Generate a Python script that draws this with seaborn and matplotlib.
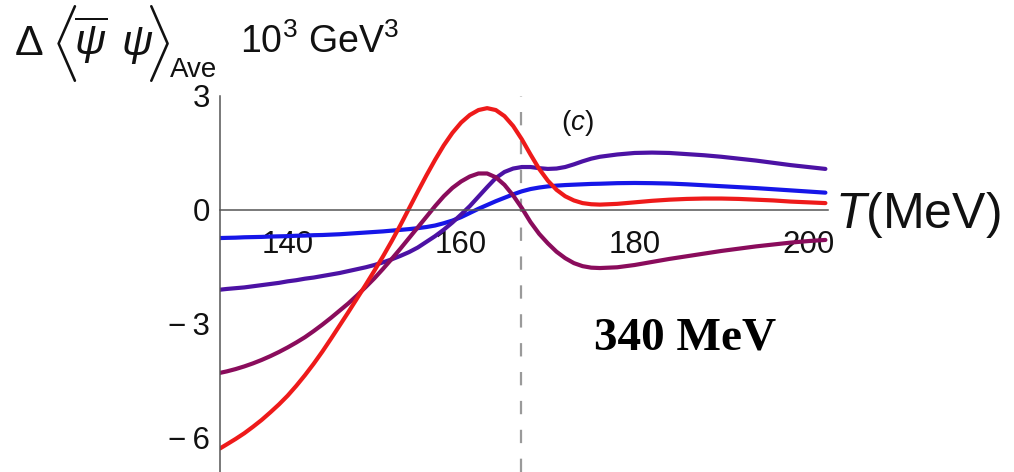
import numpy as np
import pandas as pd
import matplotlib
matplotlib.use("Agg")
import matplotlib.pyplot as plt
import seaborn as sns

# ---- data ----
T = [132.2, 133, 134, 135, 136, 137, 138, 139, 140, 141, 142, 143, 144, 145, 146,
     147, 148, 149, 150, 151, 152, 153, 154, 155, 156, 157, 158, 159, 160, 161,
     162, 163, 164, 165, 166, 167, 168, 169, 170, 171, 172, 173, 174, 175, 176,
     178, 180, 182, 184, 186, 188, 190, 192, 194, 196, 198, 200, 202]
blue = [-0.74, -0.735, -0.73, -0.72, -0.715, -0.71, -0.70, -0.695, -0.69, -0.68,
        -0.675, -0.665, -0.66, -0.65, -0.64, -0.625, -0.61, -0.595, -0.58, -0.565,
        -0.545, -0.525, -0.505, -0.48, -0.45, -0.41, -0.35, -0.28, -0.19, -0.08,
        0.03, 0.13, 0.23, 0.32, 0.41, 0.49, 0.55, 0.59, 0.62, 0.64, 0.655, 0.665,
        0.675, 0.685, 0.69, 0.705, 0.71, 0.705, 0.695, 0.675, 0.65, 0.625, 0.60,
        0.575, 0.545, 0.515, 0.485, 0.455]
purple = [-2.10, -2.08, -2.06, -2.04, -2.01, -1.98, -1.95, -1.92, -1.88, -1.85,
          -1.81, -1.78, -1.74, -1.70, -1.66, -1.61, -1.56, -1.51, -1.45, -1.38,
          -1.30, -1.21, -1.11, -0.99, -0.84, -0.69, -0.52, -0.33, -0.12, 0.10,
          0.35, 0.60, 0.84, 1.00, 1.09, 1.13, 1.13, 1.10, 1.08, 1.09, 1.13, 1.20,
          1.28, 1.35, 1.40, 1.46, 1.50, 1.51, 1.50, 1.47, 1.44, 1.40, 1.35, 1.30,
          1.24, 1.18, 1.13, 1.08]
maroon = [-4.29, -4.25, -4.19, -4.12, -4.04, -3.95, -3.85, -3.74, -3.62, -3.49,
          -3.35, -3.19, -3.02, -2.84, -2.65, -2.46, -2.25, -2.03, -1.80, -1.55,
          -1.29, -1.02, -0.74, -0.46, -0.18, 0.10, 0.36, 0.58, 0.75, 0.88, 0.96,
          0.96, 0.86, 0.66, 0.38, 0.05, -0.32, -0.63, -0.88, -1.10, -1.27, -1.40,
          -1.48, -1.52, -1.53, -1.51, -1.45, -1.37, -1.29, -1.22, -1.15, -1.08,
          -1.02, -0.96, -0.91, -0.86, -0.82, -0.79]
red = [-6.28, -6.17, -6.03, -5.88, -5.71, -5.53, -5.33, -5.12, -4.89, -4.63, -4.35,
       -4.05, -3.73, -3.39, -3.04, -2.69, -2.33, -1.97, -1.60, -1.22, -0.82, -0.40,
       0.04, 0.48, 0.91, 1.32, 1.70, 2.03, 2.30, 2.50, 2.63, 2.68, 2.63, 2.47, 2.21,
       1.86, 1.46, 1.08, 0.77, 0.53, 0.36, 0.25, 0.18, 0.15, 0.14, 0.16, 0.20, 0.24,
       0.27, 0.29, 0.30, 0.30, 0.29, 0.27, 0.25, 0.22, 0.20, 0.18]
series_names = ["blue", "purple", "maroon", "red"]
T_c = 166.9
x_ticks = [140, 160, 180, 200]
y_ticks = [3, 0, -3, -6]
y_tick_labels = ["3", "0", "\u2212\u20093", "\u2212\u20096"]

colors = {"blue": "#1616e8", "purple": "#4c12a4", "maroon": "#8a0c5c", "red": "#ee1a1a"}

df = pd.concat([
    pd.DataFrame({"T": T, "val": v, "series": n})
    for n, v in zip(series_names, [blue, purple, maroon, red])
], ignore_index=True)

sns.set_theme(style="white")
plt.rcParams["font.family"] = ["Liberation Sans", "DejaVu Sans"]
plt.rcParams["mathtext.fontset"] = "custom"
plt.rcParams["mathtext.rm"] = "Liberation Sans"
plt.rcParams["mathtext.it"] = "Liberation Sans:italic"
plt.rcParams["mathtext.bf"] = "Liberation Sans:bold"

fig = plt.figure(figsize=(10.14, 4.72), dpi=100)
W, H = 1014, 472
ax = fig.add_axes([220 / W, 0.0, (828 - 220) / W, 1 - 88.4 / H])

sns.lineplot(data=df, x="T", y="val", hue="series", hue_order=series_names,
             palette=colors, linewidth=3.0, legend=False, ax=ax, sort=False)

ax.axvline(T_c, ymin=0, ymax=(3 + 6.9) / (3.2 + 6.9), color="#9a9a9a",
           linewidth=1.6, dashes=(6, 7), zorder=0)

ax.set_xlim(132.2, 202.3)
ax.set_ylim(-6.9, 3.2)
ax.set_xlabel("")
ax.set_ylabel("")

for s in ["top", "right"]:
    ax.spines[s].set_visible(False)
ax.spines["bottom"].set_position(("data", 0))
ax.spines["left"].set_bounds(-6.9, 3)
for s in ["bottom", "left"]:
    ax.spines[s].set_color("#555555")
    ax.spines[s].set_linewidth(1.1)

ax.set_xticks(x_ticks)
ax.set_yticks(y_ticks)
ax.set_yticklabels(y_tick_labels)
ax.tick_params(axis="x", direction="in", length=5, width=1.0, color="#555555",
               labelsize=22.5, pad=14.5, labelcolor="#111111")
ax.tick_params(axis="y", direction="in", length=6, width=1.0, color="#555555",
               labelsize=22.5, pad=7, labelcolor="#111111")
ax.patch.set_alpha(0)

# title pieces
tc = "#111111"
fig.text(15 / W, 1 - 55 / H, "\u0394", fontsize=31, color=tc, va="baseline", ha="left")
fig.text(64 / W, 1 - 44 / H, r"$\langle$", fontsize=46, color=tc, va="center", ha="center")
fig.text(74 / W, 1 - 55 / H, r"$\overline{\psi}$", fontsize=31, color=tc,
         va="baseline", ha="left")
fig.text(121 / W, 1 - 55 / H, r"$\psi$", fontsize=31, color=tc, va="baseline", ha="left")
fig.text(157 / W, 1 - 44 / H, r"$\rangle$", fontsize=46, color=tc, va="center", ha="center")
fig.text(170 / W, 1 - 77 / H, "Ave", fontsize=20, color=tc, va="baseline", ha="left")
fig.text(240 / W, 1 - 53 / H, r"10$^3$ GeV$^3$", fontsize=27, color=tc,
         va="baseline", ha="left")

fig.text(835 / W, 1 - 215 / H, r"$T$(MeV)", fontsize=36, color=tc,
         va="center", ha="left")
ax.text((577 - 220) / 608, (472 - 123) / 383.6, r"($c$)", transform=ax.transAxes,
        fontsize=20, color=tc, ha="center", va="center")
fig.text(594 / W, 1 - 338 / H, "340 MeV", fontsize=34, fontweight="bold",
         family=["Liberation Serif", "DejaVu Serif"], color="black",
         va="center", ha="left")

fig.savefig("out.png", dpi=100)
